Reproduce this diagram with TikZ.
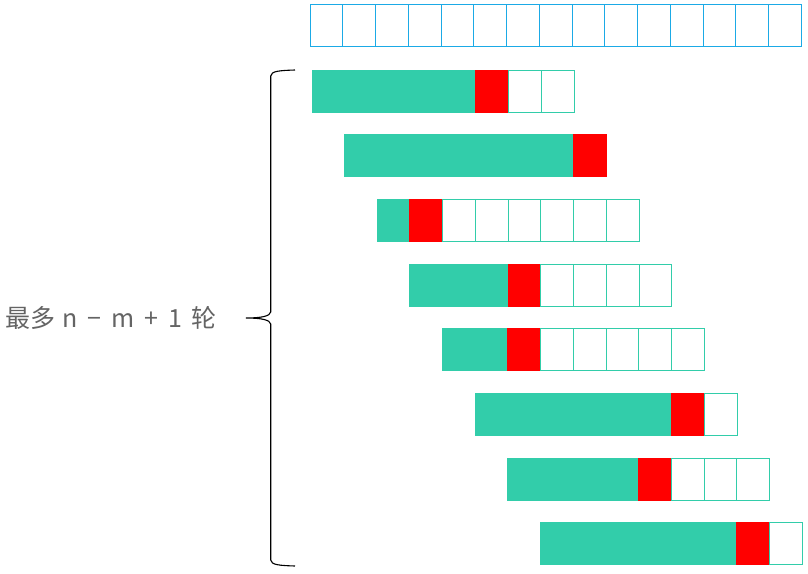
\documentclass[tikz,border=0pt]{standalone}
\usepackage{fontspec}
\newfontfamily\cjk{Noto Sans CJK SC}
\usetikzlibrary{positioning}

\definecolor{cellblue}{RGB}{27,170,230}
\definecolor{cellgreen}{RGB}{50,205,170}
\definecolor{labelgray}{RGB}{100,100,100}

\tikzset{
  topcell/.style={draw=cellblue,line width=1pt,fill=white,minimum width=32.75pt,minimum height=42pt,inner sep=0pt,outer sep=0pt},
  rowcell/.style={draw=cellgreen,line width=1pt,fill=white,minimum width=32.75pt,minimum height=42pt,inner sep=0pt,outer sep=0pt},
  donecell/.style={rowcell,fill=cellgreen},
  failcell/.style={rowcell,draw=red,fill=red},
  rounds/.style={line width=1.1pt}
}

\begin{document}
\begin{tikzpicture}[x=1pt,y=-1pt]
  \useasboundingbox (0,0) rectangle (808,573);
  % text row
  \foreach \j in {1,...,15}
    \node[topcell] (t\j) at ({310+32.75*(\j-0.5)},25) {};
  % one row per round: number of matching cells, then the mismatch
  \foreach \g [count=\i] in {5,7,1,3,2,6,4,6} {
    \foreach \j in {1,...,8} {
      \pgfmathtruncatemacro{\red}{\g+1}
      \ifnum\j<\red
        \node[donecell] (r\i c\j) at ({312+32.6*(\i-1)+32.75*(\j-0.5)},{91+64.7*(\i-1)}) {};
      \else\ifnum\j=\red
        \node[failcell] (r\i c\j) at ({312+32.6*(\i-1)+32.75*(\j-0.5)},{91+64.7*(\i-1)}) {};
      \else
        \node[rowcell] (r\i c\j) at ({312+32.6*(\i-1)+32.75*(\j-0.5)},{91+64.7*(\i-1)}) {};
      \fi\fi
    }
  }
  % brace
  \coordinate (bt) at (295,70);
  \coordinate (tip) at (246,318);
  \coordinate (bb) at (295,566);
  \draw[rounds] (bt) .. controls (280,70.5) and (271,71) .. (270.7,76)
    -- (270.7,312) .. controls (270,316) and (262,318) .. (tip)
    .. controls (262,318) and (270,320) .. (270.7,324)
    -- (270.7,560) .. controls (271,565) and (280,565.5) .. (bb);
  \node[text=labelgray,font=\cjk\fontsize{25}{29}\selectfont,anchor=west,inner sep=0pt] (label) at (5,318)
    {最多\hspace{0.3em}n\hspace{0.4em}−\hspace{0.4em}m\hspace{0.4em}+\hspace{0.4em}1\hspace{0.35em}轮};
\end{tikzpicture}
\end{document}
